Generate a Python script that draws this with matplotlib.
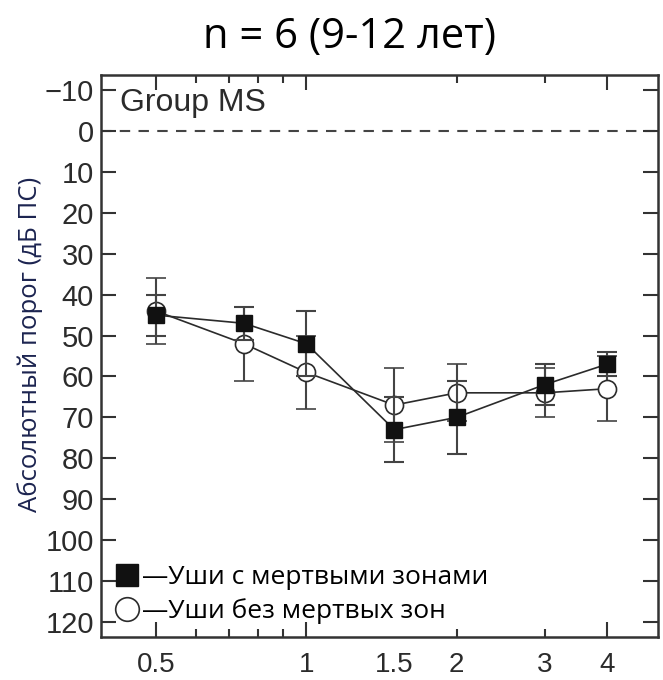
import matplotlib
matplotlib.use('Agg')
import matplotlib.pyplot as plt
from matplotlib.ticker import FixedLocator, NullFormatter
from matplotlib.lines import Line2D

# frequencies (kHz)
freqs = [0.5, 0.75, 1, 1.5, 2, 3, 4]

# ears with dead regions (filled squares)
dead_mean = [45, 47, 52, 73, 70, 62, 57]
dead_err = [5, 4, 8, 8, 9, 5, 3]

# ears without dead regions (open circles)
nodead_mean = [44, 52, 59, 67, 64, 64, 63]
nodead_err = [8, 9, 9, 9, 7, 6, 8]

yticks = list(range(-10, 121, 10))
xlabel_pos = [0.5, 1, 1.5, 2, 3, 4]
xlabel_txt = ['0.5', '1', '1.5', '2', '3', '4']
major_x = [0.5, 1, 4]
minor_x = [0.6, 0.7, 0.8, 0.9, 2, 3]

title = 'n = 6 (9-12 лет)'
ylabel = 'Абсолютный порог (дБ ПС)'
leg_labels = ['—Уши с мертвыми зонами', '—Уши без мертвых зон']

tick_font = ['Liberation Sans Narrow', 'Liberation Sans', 'DejaVu Sans']
text_font = ['Open Sans', 'DejaVu Sans']
ink = '#2b2b2b'

fig = plt.figure(figsize=(6.63, 6.8), dpi=100)
ax = fig.add_axes([0.1523, 0.0632, 0.8402, 0.8265])

ax.set_xscale('log')
ax.set_xlim(0.388, 5.06)
ax.set_ylim(123.7, -13.7)

ax.axhline(0, color='#444444', lw=1.5, ls=(0, (5, 4)), zorder=1)

ax.errorbar(freqs, nodead_mean, yerr=nodead_err, fmt='-o', color=ink, mfc='white',
            mec=ink, mew=1.2, ms=13, lw=1.2, elinewidth=1.5, ecolor='#444444',
            capsize=7, capthick=1.5, zorder=3)
ax.errorbar(freqs, dead_mean, yerr=dead_err, fmt='-s', color=ink, mfc='#111111',
            mec='#111111', ms=12, lw=1.2, elinewidth=1.5, ecolor='#444444',
            capsize=7, capthick=1.5, zorder=4)

ax.xaxis.set_major_locator(FixedLocator(major_x))
ax.xaxis.set_minor_locator(FixedLocator(minor_x))
ax.xaxis.set_major_formatter(NullFormatter())
ax.xaxis.set_minor_formatter(NullFormatter())
for xv, t in zip(xlabel_pos, xlabel_txt):
    ax.text(xv, -0.062, t, transform=ax.get_xaxis_transform(), ha='center', va='baseline',
            fontsize=20, family=tick_font, color=ink)

ax.set_yticks(yticks)
ax.set_yticklabels(['−10' if v < 0 else str(v) for v in yticks], family=tick_font,
                   fontsize=21, color=ink)

ax.tick_params(axis='both', which='major', direction='in', length=11, width=1.5,
               color='#333333', top=True, right=True, pad=5)
ax.tick_params(axis='x', which='minor', direction='in', length=6, width=1.5,
               color='#333333', top=True, bottom=True)
for s in ax.spines.values():
    s.set_linewidth(1.8)
    s.set_color('#333333')

ax.text(0.035, 0.977, 'Group MS', transform=ax.transAxes, ha='left', va='top',
        fontsize=23, family=tick_font, color=ink)

fig.text(0.046, 0.494, ylabel, rotation=90, ha='center', va='center',
         family=text_font, fontsize=18.5, color='#1c2450')
fig.text(0.527, 0.945, title, ha='center', va='center', family=text_font, fontsize=30)

handles = [Line2D([], [], ls='none', marker='s', ms=16, mfc='#111111', mec='#111111'),
           Line2D([], [], ls='none', marker='o', ms=17, mfc='white', mec=ink, mew=1.2)]
ax.legend(handles, leg_labels, loc='lower left', bbox_to_anchor=(0.0, 0.0),
          frameon=False, prop={'family': text_font, 'size': 19}, handlelength=1.0,
          handletextpad=0.05, labelspacing=0.3, borderaxespad=0.3, borderpad=0.2)

fig.savefig('out.png', dpi=100)
